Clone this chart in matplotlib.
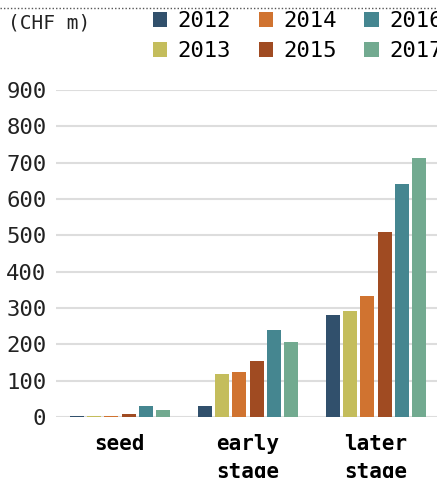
import numpy as np
import matplotlib
matplotlib.use('Agg')  # noqa
import matplotlib.pyplot as plt
from matplotlib.lines import Line2D

categories = ['seed', 'early\nstage', 'later\nstage']
years = ['2012', '2013', '2014', '2015', '2016', '2017']
values = {
    '2012': [4, 31, 282],
    '2013': [3, 118, 292],
    '2014': [4, 124, 333],
    '2015': [9, 154, 510],
    '2016': [31, 240, 642],
    '2017': [20, 207, 713],
}
colors = ['#31506c', '#c4bd5c', '#d07330', '#a04b22', '#458690', '#72aa90']

plt.rcParams['font.family'] = ['DejaVu Sans Mono']

W, H = 437, 478
fig = plt.figure(figsize=(W / 100, H / 100), dpi=100)
ax = fig.add_axes([56 / W, 61 / H, 384 / W, 327 / H])

x = np.arange(len(categories))
slot = 0.8 / len(years)
for i, (yr, c) in enumerate(zip(years, colors)):
    ax.bar(x - 0.4 + slot * (i + 0.5), values[yr], width=slot * 0.82,
           color=c, label=yr, zorder=3)

ax.set_xlim(-0.5, 2.5)
ax.set_ylim(0, 900)
ax.set_yticks(range(0, 901, 100))
ax.yaxis.grid(True, color='#dddddd', linewidth=1.5, zorder=0)
for s in ax.spines.values():
    s.set_visible(False)
ax.tick_params(axis='y', length=0, labelsize=16, pad=7, colors='#222222')
ax.tick_params(axis='x', length=0, pad=12)
ax.set_xticks(x)
ax.set_xticklabels(categories, fontsize=15, fontweight='bold',
                   linespacing=1.5)

# dotted rule and unit label
fig.add_artist(Line2D([0, 1], [1 - 8 / H, 1 - 8 / H], color='#555555',
                      linestyle=(0, (1, 1.5)), linewidth=1))
fig.text(8 / W, 1 - 23 / H, '(CHF m)', fontsize=14, va='center', ha='left',
         color='#222222')

fig.legend(loc='upper left', bbox_to_anchor=(153 / W, 1 - 11 / H), ncol=3,
           frameon=False, fontsize=16, handlelength=0.65, handleheight=0.65,
           handletextpad=0.45, columnspacing=1.25, labelspacing=0.45,
           borderaxespad=0, borderpad=0)

fig.savefig('out.png', dpi=100)
